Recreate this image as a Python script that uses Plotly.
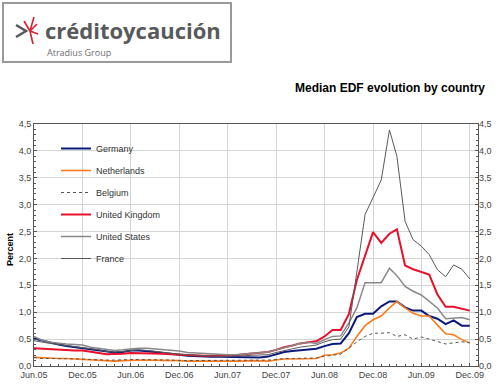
import pandas as pd
import plotly.graph_objects as go

months = pd.date_range("2005-06-01", periods=55, freq="MS")

germany = [0.51, 0.47, 0.43, 0.40, 0.37, 0.35, 0.33, 0.30, 0.28, 0.26, 0.25, 0.26, 0.29, 0.29, 0.28,
           0.26, 0.24, 0.23, 0.21, 0.19, 0.18, 0.175, 0.17, 0.17, 0.17, 0.17, 0.17, 0.165, 0.16, 0.175,
           0.21, 0.26, 0.28, 0.29, 0.30, 0.32, 0.37, 0.41, 0.42, 0.61, 0.91, 0.97, 0.97, 1.11, 1.20,
           1.20, 1.09, 1.03, 1.03, 0.93, 0.88, 0.78, 0.85, 0.75, 0.75]
netherlands = [0.16, 0.15, 0.14, 0.14, 0.14, 0.13, 0.12, 0.11, 0.10, 0.09, 0.09, 0.10, 0.11, 0.11, 0.11,
               0.11, 0.11, 0.10, 0.10, 0.09, 0.09, 0.09, 0.08, 0.08, 0.08, 0.08, 0.09, 0.10, 0.10, 0.09,
               0.11, 0.13, 0.13, 0.13, 0.13, 0.14, 0.20, 0.21, 0.24, 0.33, 0.55, 0.75, 0.86, 0.93, 1.08,
               1.20, 1.08, 0.98, 0.93, 0.93, 0.76, 0.60, 0.58, 0.49, 0.43]
belgium = [0.16, 0.14, 0.14, 0.14, 0.14, 0.13, 0.13, 0.12, 0.11, 0.11, 0.11, 0.12, 0.12, 0.12, 0.12,
           0.12, 0.11, 0.11, 0.10, 0.10, 0.10, 0.10, 0.10, 0.10, 0.10, 0.10, 0.10, 0.11, 0.11, 0.11,
           0.12, 0.14, 0.14, 0.14, 0.14, 0.15, 0.18, 0.20, 0.22, 0.33, 0.45, 0.55, 0.61, 0.61, 0.62,
           0.55, 0.58, 0.50, 0.54, 0.50, 0.46, 0.41, 0.43, 0.45, 0.43]
united_kingdom = [0.33, 0.32, 0.31, 0.30, 0.30, 0.29, 0.29, 0.26, 0.24, 0.22, 0.22, 0.23, 0.24, 0.24, 0.24,
                  0.24, 0.23, 0.22, 0.21, 0.20, 0.19, 0.19, 0.19, 0.19, 0.19, 0.20, 0.22, 0.23, 0.24, 0.26,
                  0.30, 0.35, 0.38, 0.42, 0.44, 0.46, 0.55, 0.67, 0.67, 0.97, 1.60, 2.05, 2.49, 2.29, 2.46,
                  2.54, 1.87, 1.80, 1.75, 1.70, 1.33, 1.10, 1.10, 1.07, 1.03]
united_states = [0.55, 0.48, 0.44, 0.42, 0.41, 0.40, 0.39, 0.35, 0.33, 0.30, 0.29, 0.30, 0.32, 0.33, 0.33,
                 0.32, 0.31, 0.30, 0.28, 0.25, 0.24, 0.24, 0.23, 0.22, 0.21, 0.21, 0.22, 0.24, 0.24, 0.26,
                 0.30, 0.34, 0.38, 0.42, 0.44, 0.42, 0.49, 0.55, 0.56, 0.80, 1.08, 1.55, 1.55, 1.55, 1.82,
                 1.68, 1.48, 1.39, 1.32, 1.20, 1.08, 0.88, 0.89, 0.90, 0.86]
france = [0.47, 0.44, 0.42, 0.40, 0.38, 0.36, 0.35, 0.32, 0.30, 0.27, 0.26, 0.27, 0.29, 0.30, 0.29,
          0.27, 0.25, 0.24, 0.22, 0.21, 0.20, 0.19, 0.19, 0.18, 0.18, 0.18, 0.19, 0.20, 0.20, 0.21,
          0.25, 0.29, 0.32, 0.35, 0.37, 0.39, 0.45, 0.49, 0.50, 0.73, 1.75, 2.82, 3.13, 3.46, 4.39,
          3.90, 2.69, 2.35, 2.23, 2.07, 1.79, 1.66, 1.88, 1.80, 1.62]

series = [
    ("Germany", germany, dict(color="#0a1a7a", width=2)),
    ("Netherlands", netherlands, dict(color="#ff7a1a", width=1.6)),
    ("Belgium", belgium, dict(color="#555555", width=1, dash="dot")),
    ("United Kingdom", united_kingdom, dict(color="#e8102a", width=2)),
    ("United States", united_states, dict(color="#888888", width=1.5)),
    ("France", france, dict(color="#5a5a5a", width=1)),
]

FONT = "Liberation Sans, Arial"

fig = go.Figure()
for i, (name, vals, line) in enumerate(series):
    fig.add_trace(go.Scatter(x=months, y=vals, name=name, mode="lines", line=line,
                             legendgroup=f"g{i}"))
# invisible copy so that the right-hand axis is drawn
fig.add_trace(go.Scatter(x=months, y=germany, yaxis="y2", mode="lines", opacity=0,
                         showlegend=False, hoverinfo="skip", line=dict(width=0.1)))

axis_font = dict(family=FONT, size=9, color="#444444")

# plot area in pixels
L, R, T, B = 34, 478, 124, 366
W, H = R - L, B - T


def px(x):
    return (x - L) / W


def py(y):
    return (B - y) / H


fig.update_layout(
    template="none",
    width=500, height=384,
    margin=dict(l=L, r=500 - R, t=T, b=384 - B, pad=0),
    paper_bgcolor="white", plot_bgcolor="white",
    separators=", ",
    font=dict(family=FONT),
    showlegend=True,
    legend=dict(x=px(56), y=py(134), xanchor="left", yanchor="top",
                bgcolor="rgba(0,0,0,0)", borderwidth=0,
                font=dict(family=FONT, size=9, color="#333333"),
                tracegroupgap=3, itemwidth=30),
    title=dict(text="<b>Median EDF evolution by country</b>", xref="container", yref="container",
               x=485 / 500, xanchor="right", y=1 - 88 / 384, yanchor="middle",
               font=dict(family=FONT, size=12, color="#000000")),
    xaxis=dict(type="date", range=["2005-06-01", "2010-01-01"], tick0="2005-06-01", dtick="M6",
               tickformat="%b.%y", showgrid=True, gridcolor="#d4d4d4", gridwidth=1,
               showline=True, linecolor="#555555", linewidth=1, mirror=True,
               ticks="inside", ticklen=3, tickcolor="#555555", tickfont=axis_font,
               minor=dict(dtick="M1", ticks="inside", ticklen=2, tickcolor="#555555", showgrid=False),
               zeroline=False, automargin=False),
    yaxis=dict(range=[0, 4.5], dtick=0.5, tickformat=".1f", showgrid=True, gridcolor="#d4d4d4",
               showline=True, linecolor="#555555", linewidth=1, mirror=True,
               ticks="inside", ticklen=3, tickcolor="#555555", tickfont=axis_font,
               minor=dict(dtick=0.1, ticks="inside", ticklen=2, tickcolor="#555555", showgrid=False),
               zeroline=False, automargin=False),
    yaxis2=dict(range=[0, 4.5], dtick=0.5, tickformat=".1f", overlaying="y", side="right",
                anchor="x", showgrid=False, showline=False, ticks="inside", ticklen=3,
                tickcolor="#555555", tickfont=axis_font,
                minor=dict(dtick=0.1, ticks="inside", ticklen=2, tickcolor="#555555", showgrid=False),
                zeroline=False, automargin=False),
)

# y-axis title
fig.add_annotation(text="<b>Percent</b>", xref="paper", yref="paper", x=px(10), y=py(250),
                   xanchor="center", yanchor="middle",
                   textangle=-90, showarrow=False, font=dict(family=FONT, size=9, color="#000000"))

# Logo box
fig.add_shape(type="rect", xref="paper", yref="paper",
              x0=px(3), x1=px(231), y0=py(62), y1=py(3),
              line=dict(color="#9a9a9a", width=2), fillcolor="white", layer="above")
# ">" mark
fig.add_shape(type="path", xref="paper", yref="paper",
              path="M {:.4f} {:.4f} L {:.4f} {:.4f} L {:.4f} {:.4f}".format(
                  px(16), py(25), px(26), py(31), px(16), py(37)),
              line=dict(color="#58595b", width=2.5))
# red burst
for (xa, ya, xb, yb) in [(34, 17, 30, 31), (30, 31, 37, 24), (30, 31, 38, 34), (30, 31, 33, 44),
                         (30, 31, 24, 21)]:
    fig.add_shape(type="line", xref="paper", yref="paper",
                  x0=px(xa), y0=py(ya), x1=px(xb), y1=py(yb),
                  line=dict(color="#d6202f", width=1.6))
fig.add_annotation(text="<b>créditoycaución</b>", xref="paper", yref="paper",
                   x=px(43), y=py(30), xanchor="left", yanchor="middle", showarrow=False,
                   font=dict(family="Open Sans, Liberation Sans", size=22, color="#58595b"))
fig.add_annotation(text="Atradius Group", xref="paper", yref="paper",
                   x=px(45), y=py(52), xanchor="left", yanchor="middle", showarrow=False,
                   font=dict(family="Open Sans, Liberation Sans", size=9, color="#6d6e71"))

fig.write_html("out.html", config={"displayModeBar": False},
               post_script="document.body.style.margin='0px';")
